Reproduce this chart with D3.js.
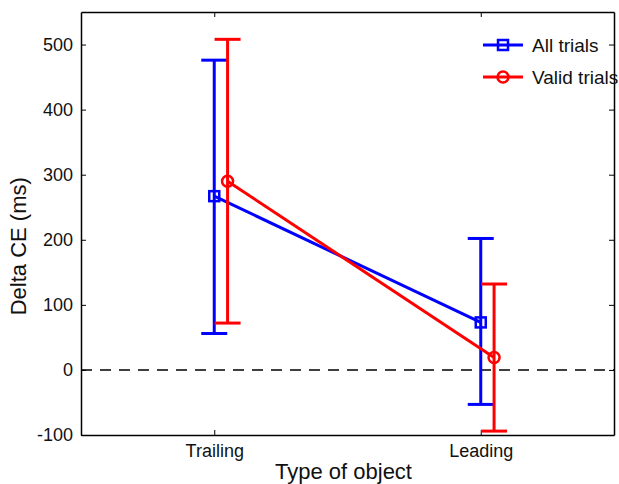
<!DOCTYPE html>
<html>
<head>
<meta charset="utf-8">
<script src="https://cdn.jsdelivr.net/npm/d3@7"></script>
<style>
  html, body { margin: 0; padding: 0; background: #fff; }
  svg { display: block; font-family: "Liberation Sans", Arial, sans-serif; }
</style>
</head>
<body>
<div id="chart"></div>
<script>
const categories = ['Trailing', 'Leading'];
const seriesNames = ['All trials', 'Valid trials'];
const seriesColors = ['#0000ff', '#ff0000'];

// mean, lower and upper bound of the error bars, per category
const allMean = [267, 73];
const allLow = [56, -53];
const allHigh = [476, 202];
const validMean = [290, 19];
const validLow = [72, -94];
const validHigh = [508, 132];

const yTicks = [-100, 0, 100, 200, 300, 400, 500];

const series = [
  { name: seriesNames[0], color: seriesColors[0], mean: allMean, low: allLow, high: allHigh, offset: 0, marker: 'square' },
  { name: seriesNames[1], color: seriesColors[1], mean: validMean, low: validLow, high: validHigh, offset: 0.05, marker: 'circle' },
];

const W = 619, H = 484;
const margin = { top: 12, right: 5, bottom: 49, left: 81 };
const chartW = W - margin.left - margin.right;
const chartH = H - margin.top - margin.bottom;

const svg = d3.select('#chart').append('svg')
  .attr('width', W)
  .attr('height', H);

const g = svg.append('g')
  .attr('transform', `translate(${margin.left},${margin.top})`);

const x = d3.scaleLinear().domain([0.5, 2.5]).range([0, chartW]);
const y = d3.scaleLinear().domain([-100, 550]).range([chartH, 0]);

// zero line
g.append('line')
  .attr('x1', 0).attr('x2', chartW)
  .attr('y1', y(0)).attr('y2', y(0))
  .attr('stroke', '#000')
  .attr('stroke-width', 1.5)
  .attr('stroke-dasharray', '11,8');

// axes (ticks pointing inward, mirrored on top and right)
const tickPos = categories.map((c, i) => i + 1);

const xAxis = g.append('g')
  .attr('transform', `translate(0,${chartH})`)
  .call(d3.axisBottom(x).tickValues(tickPos).tickFormat((d, i) => categories[i]).tickSizeInner(-5).tickSizeOuter(0).tickPadding(9));
const xAxisTop = g.append('g')
  .call(d3.axisTop(x).tickValues(tickPos).tickFormat('').tickSizeInner(-5).tickSizeOuter(0));
const yAxis = g.append('g')
  .call(d3.axisLeft(y).tickValues(yTicks).tickFormat(d => String(d)).tickSizeInner(-5).tickSizeOuter(0).tickPadding(8));
const yAxisRight = g.append('g')
  .attr('transform', `translate(${chartW},0)`)
  .call(d3.axisRight(y).tickValues(yTicks).tickFormat('').tickSizeInner(-5).tickSizeOuter(0));

[xAxis, xAxisTop, yAxis, yAxisRight].forEach(a => {
  a.select('.domain').attr('stroke', '#000').attr('stroke-width', 1.5);
  a.selectAll('.tick line').attr('stroke', '#000').attr('stroke-width', 1);
  a.selectAll('text').attr('fill', '#111').style('font-size', '18px');
});

// axis labels
svg.append('text')
  .attr('x', margin.left + x(1.5) - 4)
  .attr('y', 479)
  .attr('text-anchor', 'middle')
  .style('font-size', '22px')
  .attr('fill', '#111')
  .text('Type of object');

svg.append('text')
  .attr('transform', `translate(26,${margin.top + y(190)}) rotate(-90)`)
  .attr('text-anchor', 'middle')
  .style('font-size', '22px')
  .attr('fill', '#111')
  .text('Delta CE (ms)');

function drawMarker(sel, type, cx, cy, color) {
  if (type === 'square') {
    sel.append('rect')
      .attr('x', cx - 5).attr('y', cy - 5)
      .attr('width', 10).attr('height', 10)
      .attr('fill', 'none').attr('stroke', color).attr('stroke-width', 2.5);
  } else {
    sel.append('circle')
      .attr('cx', cx).attr('cy', cy).attr('r', 5.5)
      .attr('fill', 'none').attr('stroke', color).attr('stroke-width', 2.5);
  }
}

const capHalf = 13;
const line = d3.line();

series.forEach(s => {
  const sg = g.append('g');
  const xs = s.mean.map((v, i) => x(i + 1 + s.offset));

  // error bars
  s.mean.forEach((v, i) => {
    const cx = xs[i];
    sg.append('line')
      .attr('x1', cx).attr('x2', cx)
      .attr('y1', y(s.low[i])).attr('y2', y(s.high[i]))
      .attr('stroke', s.color).attr('stroke-width', 3);
    [s.low[i], s.high[i]].forEach(b => {
      sg.append('line')
        .attr('x1', cx - capHalf).attr('x2', cx + capHalf)
        .attr('y1', y(b)).attr('y2', y(b))
        .attr('stroke', s.color).attr('stroke-width', 3);
    });
  });

  // connecting line
  sg.append('path')
    .attr('d', line(s.mean.map((v, i) => [xs[i], y(v)])))
    .attr('fill', 'none')
    .attr('stroke', s.color)
    .attr('stroke-width', 3);

  s.mean.forEach((v, i) => drawMarker(sg, s.marker, xs[i], y(v), s.color));
});

// legend
const legend = svg.append('g');
series.forEach((s, i) => {
  const ly = 45 + i * 32;
  legend.append('line')
    .attr('x1', 483).attr('x2', 523)
    .attr('y1', ly).attr('y2', ly)
    .attr('stroke', s.color).attr('stroke-width', 3);
  drawMarker(legend, s.marker, 503, ly, s.color);
  legend.append('text')
    .attr('x', 532).attr('y', ly + 7)
    .style('font-size', '19px')
    .attr('fill', '#111')
    .text(s.name);
});
</script>
</body>
</html>
